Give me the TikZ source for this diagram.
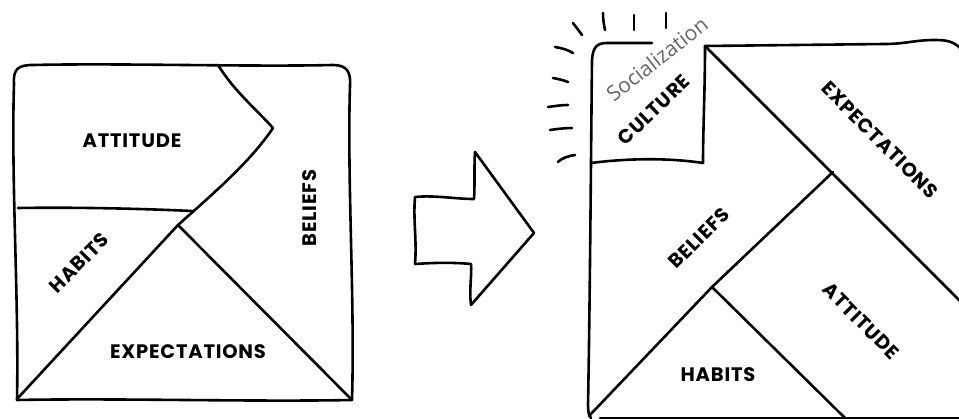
\documentclass[tikz,border=0pt]{standalone}
\usepackage{fontspec}
\newfontfamily\labfont{Poppins}[LetterSpace=4]
\newfontfamily\socfont{Open Sans}
\begin{document}
\begin{tikzpicture}[x=1pt,y=-1pt,
  sk/.style={line width=2.6pt, line join=round, line cap=round},
  ray/.style={line width=2.6pt, line cap=round},
  lab/.style={font=\labfont\bfseries\fontsize{19.5}{19.5}\selectfont, inner sep=0pt},
  soc/.style={font=\socfont\fontsize{21}{21}\selectfont, text=black!60, inner sep=0pt}]
\useasboundingbox (0,0) rectangle (959,419);
\clip (0,0) rectangle (959,419);
% ---------- left square ----------
\draw[sk] (14,84) .. controls (13,69) and (18,65) .. (33,65)
  .. controls (120,63) and (250,67) .. (333,65)
  .. controls (347,65) and (351,72) .. (350,86)
  .. controls (347,180) and (355,300) .. (352,400)
  .. controls (250,402) and (120,398) .. (17,400)
  .. controls (19,300) and (11,180) .. cycle;
\draw[sk] (218,65) .. controls (235,92) and (255,108) .. (273,128)
  .. controls (250,162) and (215,192) .. (178,225) -- (17,399);
\draw[sk] (18,208) .. controls (80,207) and (150,209) .. (192,211);
\draw[sk] (178,225) -- (352,400);
\node[lab] (l-att) at (132,141) {ATTITUDE};
\node[lab, rotate=90] (l-bel) at (310,208) {BELIEFS};
\node[lab, rotate=45] (l-hab) at (79,263) {HABITS};
\node[lab] (l-exp) at (188,352) {EXPECTATIONS};
% ---------- arrow ----------
\draw[sk] (475,152) -- (534,233) -- (471,305)
  .. controls (469,290) and (472,275) .. (471,264)
  .. controls (450,262) and (430,263) .. (415,264)
  .. controls (417,240) and (413,220) .. (415,197)
  .. controls (435,195) and (455,199) .. (474,199)
  .. controls (475,185) and (474,165) .. cycle;
% ---------- right square ----------
\draw[sk] (652,43) -- (607,43) .. controls (596,43) and (593,48) .. (592,60)
  .. controls (591,150) and (590,300) .. (588,405)
  .. controls (588,412) and (589,416) .. (591,418);
\draw[sk] (705,46) .. controls (705,90) and (703,130) .. (703,163);
\draw[sk] (591,163) .. controls (630,158) and (670,158) .. (703,163);
\draw[sk] (705,46) -- (885,44) .. controls (905,44) and (915,40) .. (935,40)
  .. controls (948,40) and (955,42) .. (962,50);
\draw[sk] (600,418) -- (970,418);
\draw[sk] (705,46) -- (975,316);
\draw[sk] (833,172) -- (712,287) -- (589,416);
\draw[sk] (712,287) -- (846,419);
% rays
\draw[ray] (573,23) -- (582,35);
\draw[ray] (603,13) .. controls (603,20) and (604,25) .. (605,30);
\draw[ray] (634,15) -- (634,30);
\draw[ray] (666,13) -- (666,28);
\draw[ray] (555,47) .. controls (562,48) and (568,50) .. (573,53);
\draw[ray] (553,78) .. controls (558,79) and (563,80) .. (568,82);
\draw[ray] (548,107) .. controls (555,106) and (562,105) .. (568,105);
\draw[ray] (550,130) .. controls (557,129) and (565,128) .. (572,128);
\draw[ray] (558,162) .. controls (562,158) and (568,156) .. (575,155);
\node[soc, rotate=38] (r-soc) at (657,59) {Socialization};
\node[lab, rotate=44] (r-cul) at (654,110) {CULTURE};
\node[lab, rotate=-45] (r-exp) at (880,140) {EXPECTATIONS};
\node[lab, rotate=45] (r-bel) at (699,238) {BELIEFS};
\node[lab, rotate=-45] (r-att) at (861,321) {ATTITUDE};
\node[lab] (r-hab) at (718,375) {HABITS};
\end{tikzpicture}
\end{document}
